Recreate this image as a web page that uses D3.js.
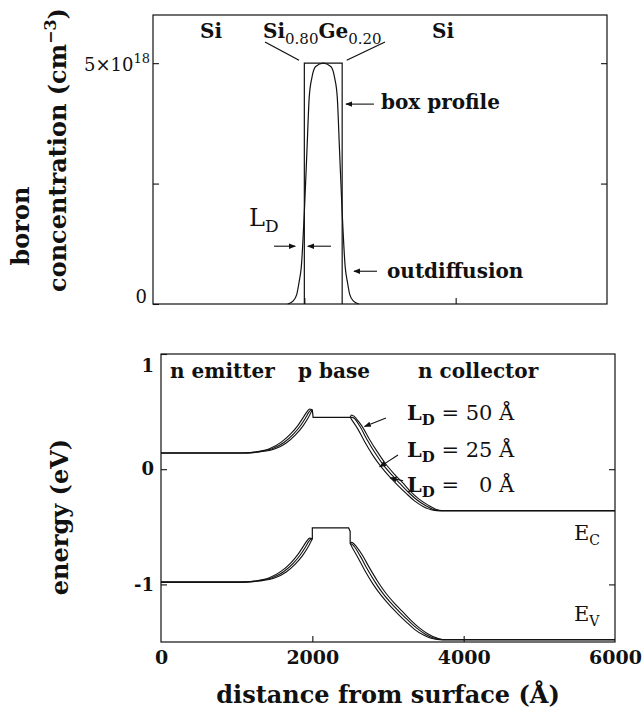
<!DOCTYPE html>
<html><head><meta charset="utf-8">
<script src="https://cdn.jsdelivr.net/npm/d3@7"></script>
<style>body{margin:0;background:#fff}</style>
</head><body>
<svg id="c" width="644" height="709" xmlns="http://www.w3.org/2000/svg"></svg>
<script>
// ---------------- data ----------------
const xTicks = [0, 2000, 4000, 6000];
const boronTicks = [0, 2.5, 5];           // ×10^18 cm^-3
const energyTicks = [-1, 0, 1];
const energyRightTicks = [-1, 0];
const boxProfile = [[2000,0],[2000,5],[2500,5],[2500,0]];
const outdiffusion = [[1780,0],[1850,0.06],[1900,0.2],[1930,0.45],[1960,0.77],[2000,1.9],[2035,3.2],[2065,4.3],[2100,4.7],[2150,4.93],[2250,5.0],[2350,4.93],[2400,4.7],[2435,4.3],[2465,3.2],[2500,1.9],[2540,0.77],[2570,0.45],[2600,0.2],[2650,0.06],[2720,0]];

// conduction band (eV), emitter side, for L_D = 0, 25, 50 Å
const ecEmitter0  = [[0,0.14],[1100,0.14],[1300,0.15],[1500,0.175],[1650,0.225],[1780,0.30],[1870,0.37],[1940,0.44],[1980,0.49],[2000,0.515]];
const ecEmitter25 = [[0,0.14],[1070,0.14],[1270,0.15],[1470,0.178],[1620,0.23],[1750,0.305],[1840,0.375],[1910,0.445],[1955,0.495],[1985,0.515],[2000,0.515]];
const ecEmitter50 = [[0,0.14],[1040,0.14],[1240,0.15],[1440,0.18],[1590,0.235],[1720,0.31],[1810,0.38],[1880,0.45],[1930,0.50],[1965,0.522],[2000,0.515]];
const ecBase = [[2000,0.515],[2010,0.45],[2500,0.45]];
const ecCollector0  = [[2500,0.45],[2520,0.43],[2600,0.35],[2690,0.24],[2800,0.12],[2910,0.02],[3020,-0.065],[3130,-0.14],[3240,-0.21],[3350,-0.275],[3470,-0.325],[3570,-0.352],[3650,-0.36],[6000,-0.36]];
const ecCollector25 = [[2500,0.45],[2530,0.45],[2630,0.37],[2720,0.26],[2830,0.14],[2940,0.035],[3050,-0.05],[3160,-0.125],[3270,-0.2],[3380,-0.265],[3500,-0.318],[3600,-0.35],[3680,-0.36],[6000,-0.36]];
const ecCollector50 = [[2500,0.45],[2515,0.47],[2540,0.465],[2580,0.44],[2660,0.37],[2750,0.265],[2860,0.15],[2970,0.045],[3080,-0.04],[3190,-0.115],[3300,-0.195],[3410,-0.26],[3530,-0.312],[3630,-0.347],[3710,-0.36],[6000,-0.36]];

// valence band (eV)
const evEmitter0  = [[0,-0.98],[1100,-0.98],[1300,-0.97],[1500,-0.945],[1650,-0.895],[1780,-0.82],[1870,-0.75],[1940,-0.68],[1980,-0.63],[2000,-0.605]];
const evEmitter25 = [[0,-0.98],[1070,-0.98],[1270,-0.97],[1470,-0.942],[1620,-0.89],[1750,-0.815],[1840,-0.745],[1910,-0.675],[1955,-0.625],[1985,-0.605],[2000,-0.605]];
const evEmitter50 = [[0,-0.98],[1040,-0.98],[1240,-0.97],[1440,-0.94],[1590,-0.885],[1720,-0.81],[1810,-0.74],[1880,-0.67],[1930,-0.62],[1965,-0.598],[2000,-0.605]];
const evBase = [[2000,-0.605],[2000,-0.51],[2480,-0.51],[2500,-0.54],[2500,-0.645]];
const evCollector0  = [[2500,-0.645],[2520,-0.67],[2600,-0.765],[2690,-0.875],[2800,-0.995],[2910,-1.095],[3020,-1.18],[3130,-1.255],[3240,-1.325],[3350,-1.39],[3470,-1.44],[3570,-1.468],[3680,-1.48],[6000,-1.48]];
const evCollector25 = [[2500,-0.645],[2530,-0.655],[2630,-0.75],[2720,-0.86],[2830,-0.98],[2940,-1.085],[3050,-1.17],[3160,-1.245],[3270,-1.315],[3380,-1.38],[3500,-1.435],[3600,-1.466],[3710,-1.48],[6000,-1.48]];
const evCollector50 = [[2500,-0.645],[2520,-0.635],[2545,-0.645],[2580,-0.67],[2660,-0.745],[2750,-0.85],[2860,-0.97],[2970,-1.075],[3080,-1.16],[3190,-1.235],[3300,-1.31],[3410,-1.375],[3530,-1.43],[3630,-1.462],[3740,-1.48],[6000,-1.48]];

const ldLabels = ["50", "25", "\u20070"];

// ---------------- drawing ----------------
const svg = d3.select("#c");
const FONT = "'DejaVu Serif', serif";
const INK = "#111";

const xT = d3.scaleLinear().domain([0,6000]).range([153,607]);
const yT = d3.scaleLinear().domain([0,6]).range([304,15]);
const xB = d3.scaleLinear().domain([0,6000]).range([161,615]);
const yB = d3.scaleLinear().domain([-1.5,1]).range([642,354]);

const defs = svg.append("defs");
defs.append("marker").attr("id","ah").attr("viewBox","0 0 10 10").attr("refX",9).attr("refY",5)
  .attr("markerWidth",7).attr("markerHeight",7).attr("markerUnits","userSpaceOnUse").attr("orient","auto")
  .append("path").attr("d","M0,1 L10,5 L0,9 Z").attr("fill",INK);

function frame(x, y){
  svg.append("rect").attr("x",x.range()[0]).attr("y",y.range()[1])
    .attr("width",x.range()[1]-x.range()[0]).attr("height",y.range()[0]-y.range()[1])
    .attr("fill","none").attr("stroke",INK).attr("stroke-width",1.2);
}
function styleAxis(g){
  g.select(".domain").remove();
  g.selectAll(".tick line").attr("stroke",INK).attr("stroke-width",1.1);
  g.selectAll("text").attr("font-family",FONT).attr("fill",INK);
}
function rich(parent, x, y, parts, anchor){
  const t = parent.append("text").attr("x",x).attr("y",y).attr("font-family",FONT)
    .attr("text-anchor",anchor||"start").attr("fill",INK);
  let cur = 0;
  parts.forEach(p=>{
    const off = p.off||0;
    t.append("tspan").attr("dy",off-cur).attr("font-size",p.s).attr("font-weight",p.w||"normal").text(p.t);
    cur = off;
  });
  return t;
}
function arrow(x1,y1,x2,y2){
  svg.append("line").attr("x1",x1).attr("y1",y1).attr("x2",x2).attr("y2",y2)
    .attr("stroke",INK).attr("stroke-width",1.1).attr("marker-end","url(#ah)");
}

// ===== Top panel =====
frame(xT, yT);
svg.append("g").attr("transform",`translate(${xT(0)},0)`)
  .call(d3.axisLeft(yT).tickValues(boronTicks).tickSize(-6).tickSizeOuter(0).tickFormat("")).call(styleAxis);
svg.append("g").attr("transform",`translate(${xT(6000)},0)`)
  .call(d3.axisRight(yT).tickValues(boronTicks.slice(1)).tickSize(-6).tickSizeOuter(0).tickFormat("")).call(styleAxis);
svg.append("g").attr("transform",`translate(0,${yT(0)})`)
  .call(d3.axisBottom(xT).tickValues(xTicks.slice(1,3)).tickSize(-6).tickSizeOuter(0).tickFormat("")).call(styleAxis);

rich(svg, xT(0)-6, yT(boronTicks[0])-1, [{t:"0",s:18}], "end");
rich(svg, xT(0)-3, yT(boronTicks[2])+8, [{t:"5×10",s:18},{t:"18",s:13,off:-8}], "end");

const lineT = d3.line().x(d=>xT(d[0])).y(d=>yT(d[1]));
svg.append("path").datum(boxProfile).attr("d",lineT).attr("fill","none").attr("stroke",INK).attr("stroke-width",1.2);
svg.append("path").datum(outdiffusion).attr("d",lineT.curve(d3.curveMonotoneX)).attr("fill","none").attr("stroke",INK).attr("stroke-width",1.2);

// region labels
rich(svg, 211, 38, [{t:"Si",s:20,w:"bold"}], "middle");
rich(svg, 263, 38, [{t:"Si",s:20,w:"bold"},{t:"0.80",s:15,off:6},{t:"Ge",s:20,w:"bold",off:0},{t:"0.20",s:15,off:6}]);
rich(svg, 443, 38, [{t:"Si",s:20,w:"bold"}], "middle");
svg.append("line").attr("x1",xT(1480)).attr("y1",yT(5.44)).attr("x2",xT(1930)).attr("y2",yT(5.06)).attr("stroke",INK).attr("stroke-width",1.3);
svg.append("line").attr("x1",xT(3066)).attr("y1",yT(5.44)).attr("x2",xT(2560)).attr("y2",yT(5.06)).attr("stroke",INK).attr("stroke-width",1.3);

rich(svg, 381, 109, [{t:"box profile",s:20,w:"bold"}]);
arrow(xT(2920), yT(4.15), xT(2550), yT(4.15));
rich(svg, 387, 278, [{t:"outdiffusion",s:20,w:"bold"}]);
arrow(xT(2960), yT(0.68), xT(2656), yT(0.68));
rich(svg, 249, 226, [{t:"L",s:24},{t:"D",s:17,off:6}]);
arrow(xT(1599), yT(1.2), xT(1880), yT(1.2));
arrow(xT(2352), yT(1.2), xT(2045), yT(1.2));

// y title (two lines)
svg.append("g").attr("transform","translate(29,226) rotate(-90)")
  .call(g=>rich(g,0,0,[{t:"boron",s:24,w:"bold"}],"middle"));
svg.append("g").attr("transform","translate(66,150) rotate(-90)")
  .call(g=>rich(g,0,0,[{t:"concentration (cm",s:24,w:"bold"},{t:"\u22123",s:16,w:"bold",off:-10},{t:")",s:24,w:"bold",off:0}],"middle"));

// ===== Bottom panel =====
frame(xB, yB);
const ax = svg.append("g").attr("transform",`translate(0,${yB(-1.5)})`)
  .call(d3.axisBottom(xB).tickValues(xTicks).tickSize(-6).tickSizeOuter(0).tickPadding(9).tickFormat(d=>String(d)));
ax.call(styleAxis);
ax.selectAll("text").attr("font-size",19).attr("font-weight","bold");
ax.selectAll(".tick").filter(d=>d===0||d===6000).select("line").remove();

const ay = svg.append("g").attr("transform",`translate(${xB(0)},0)`)
  .call(d3.axisLeft(yB).tickValues(energyTicks).tickSize(-6).tickSizeOuter(0).tickPadding(7).tickFormat(d=>String(d)));
ay.call(styleAxis);
ay.selectAll("text").attr("font-size",18).attr("font-weight","bold");
ay.selectAll(".tick").filter(d=>d===1).select("text").attr("dy","0.95em");
svg.append("g").attr("transform",`translate(${xB(6000)},0)`)
  .call(d3.axisRight(yB).tickValues(energyRightTicks).tickSize(-6).tickSizeOuter(0).tickFormat("")).call(styleAxis);

const lineB = d3.line().x(d=>xB(d[0])).y(d=>yB(d[1]));
const smooth = d3.line().x(d=>xB(d[0])).y(d=>yB(d[1])).curve(d3.curveMonotoneX);
[ecEmitter0, ecEmitter25, ecEmitter50, ecCollector0, ecCollector25, ecCollector50,
 evEmitter0, evEmitter25, evEmitter50, evCollector0, evCollector25, evCollector50].forEach(s=>{
  svg.append("path").datum(s).attr("d",smooth).attr("fill","none").attr("stroke",INK).attr("stroke-width",1.1);
});
[ecBase, evBase].forEach(s=>{
  svg.append("path").datum(s).attr("d",lineB).attr("fill","none").attr("stroke",INK).attr("stroke-width",1.2);
});

// labels
rich(svg, 170, 378, [{t:"n emitter",s:20,w:"bold"}]);
rich(svg, 298, 378, [{t:"p base",s:20,w:"bold"}]);
rich(svg, 418, 378, [{t:"n collector",s:20,w:"bold"}]);
const ldBase = [420, 457, 492];
ldLabels.forEach((v,i)=>{
  rich(svg, 407, ldBase[i], [{t:"L",s:21,w:"bold"},{t:"D",s:15,w:"bold",off:5},{t:" = "+v+" Å",s:21,off:0}]);
});
arrow(xB(2973), yB(0.444), xB(2690), yB(0.37));
arrow(xB(3132), yB(0.123), xB(2890), yB(0.02));
arrow(xB(3200), yB(-0.10), xB(3030), yB(-0.075));
rich(svg, 574, 540, [{t:"E",s:21},{t:"C",s:14,off:5}]);
rich(svg, 574, 621, [{t:"E",s:21},{t:"V",s:14,off:5}]);

// axis titles
rich(svg, (xB(0)+xB(6000))/2, 703, [{t:"distance from surface (Å)",s:24,w:"bold"}], "middle");
svg.append("g").attr("transform","translate(68,517) rotate(-90)")
  .call(g=>rich(g,0,0,[{t:"energy (eV)",s:24,w:"bold"}],"middle"));
</script>
</body></html>
